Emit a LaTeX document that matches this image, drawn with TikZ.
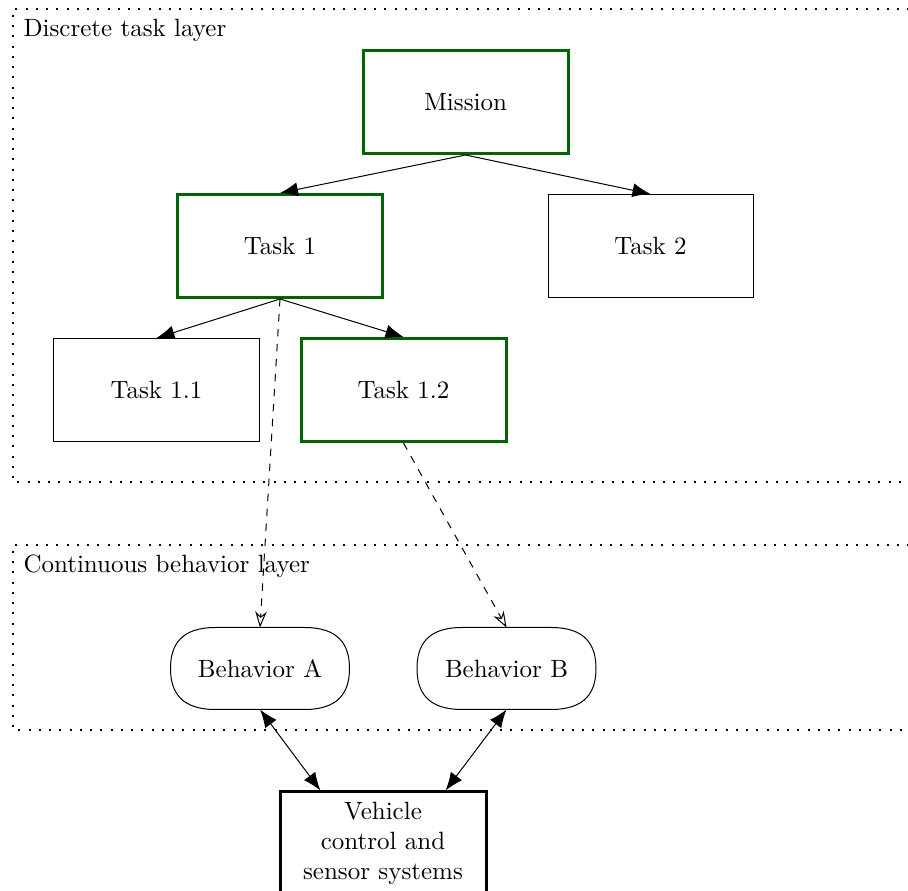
\documentclass[tikz,border=0pt]{standalone}
\usetikzlibrary{arrows.meta,calc}
\definecolor{taskgreen}{RGB}{0,100,0}
\tikzset{
  layerframe/.style={line width=0.8pt, dash pattern=on 0.8pt off 3.3pt},
  layerlabel/.style={anchor=base west, inner sep=0pt},
  taskbox/.style={draw, line width=0.4pt, minimum width=82pt, minimum height=41.2pt, inner sep=0pt},
  activetask/.style={taskbox, draw=taskgreen, line width=1.2pt},
  behavior/.style={minimum width=71.2pt, minimum height=32.4pt, inner sep=0pt},
  bhvline/.style={line width=0.4pt},
  vehiclebox/.style={draw, line width=1.2pt, minimum width=82.4pt, minimum height=40.8pt, align=center, inner sep=0pt},
  subtask/.style={-{Latex[length=7.2pt,width=5.6pt]}, line width=0.4pt},
  activates/.style={-{Stealth[open,length=6.4pt,width=4.6pt,inset=2pt]}, dashed, line width=0.4pt},
  interface/.style={{Latex[length=7.2pt,width=5.6pt]}-{Latex[length=7.2pt,width=5.6pt]}, line width=0.4pt}
}
\newcommand\bhvoutline[1]{%
  \draw[bhvline] ($(#1.north west)+(45,0)$) -- ($(#1.north east)+(-45,0)$)
    .. controls ($(#1.north east)+(-10,0)$) and ($(#1.north east)+(0,18)$) .. (#1.east)
    .. controls ($(#1.south east)+(0,-18)$) and ($(#1.south east)+(-10,0)$) .. ($(#1.south east)+(-45,0)$)
    -- ($(#1.south west)+(45,0)$)
    .. controls ($(#1.south west)+(10,0)$) and ($(#1.south west)+(0,-18)$) .. (#1.west)
    .. controls ($(#1.north west)+(0,18)$) and ($(#1.north west)+(10,0)$) .. cycle;}
\begin{document}
\begin{tikzpicture}[x=0.4pt,y=-0.4pt]
\clip (0,0) rectangle (908,891);
% layer frames
\draw[layerframe] (940,9) -- (13,9) -- (13,482) -- (940,482);
\draw[layerframe] (940,545) -- (13,545) -- (13,730) -- (940,730);
\node[layerlabel] (lbl1) at (23,37) {Discrete task layer};
\node[layerlabel] (lbl2) at (23,573) {Continuous behavior layer};
% tasks
\node[activetask] (mission) at (465.5,102) {Mission};
\node[activetask] (t1) at (280,246) {Task 1};
\node[taskbox] (t2) at (650.5,246) {Task 2};
\node[taskbox] (t11) at (156.5,390) {Task 1.1};
\node[activetask] (t12) at (403.5,390) {Task 1.2};
% behaviors
\node[behavior] (ba) at (260,668.5) {Behavior A};
\node[behavior] (bb) at (506.5,668.5) {Behavior B};
\bhvoutline{ba}
\bhvoutline{bb}
% vehicle
\node[vehiclebox] (veh) at (383,843) {Vehicle\\control and\\sensor systems};
% connectors
\draw[subtask] (mission.south) -- (t1.north);
\draw[subtask] (mission.south) -- (t2.north);
\draw[subtask] (t1.south) -- (t11.north);
\draw[subtask] (t1.south) -- (t12.north);
\draw[activates] (t1.south) -- (ba.north);
\draw[activates] (t12.south) -- (bb.north);
\draw[interface] (ba.south) -- (veh.140);
\draw[interface] (bb.south) -- (veh.40);
\end{tikzpicture}
\end{document}
